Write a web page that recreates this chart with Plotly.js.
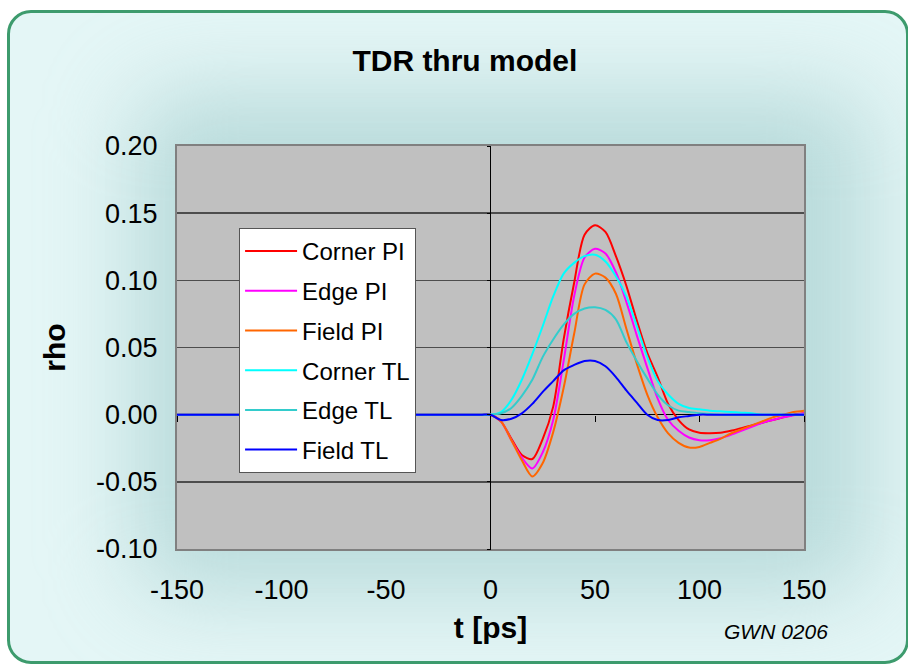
<!DOCTYPE html>
<html>
<head>
<meta charset="utf-8">
<script src="https://cdn.plot.ly/plotly-3.0.1.min.js"></script>
<style>
  html, body { margin: 0; padding: 0; width: 908px; height: 664px; overflow: hidden; background: #ffffff; }
  #frame { position: absolute; left: 7px; top: 10px; width: 902px; height: 654px; box-sizing: border-box;
           border: 3px solid #3d9b6d; border-radius: 24px; background: #e4f6f6; overflow: hidden; }
  #glow { position: absolute; left: 125px; top: 80px; width: 735px; height: 500px;
          background: rgba(150, 196, 196, 0.55); filter: blur(45px); border-radius: 40px; }
  #chart { position: absolute; left: 0; top: 0; width: 908px; height: 664px; }
</style>
</head>
<body>
<div id="frame"><div id="glow"></div></div>
<div id="chart"></div>
<script>
const t = [-150, -5, 0, 5, 10, 15, 20, 25, 30, 35, 40, 45, 50, 55, 60, 65, 70, 75, 80, 85, 90, 95, 100, 105, 110, 115, 120, 125, 130, 135, 140, 145, 150];

const cornerPI = [0, 0, 0, -0.005, -0.018, -0.030, -0.033, -0.018, 0.006, 0.056, 0.098, 0.134, 0.141, 0.136, 0.118, 0.096, 0.070, 0.046, 0.028, 0.008, -0.004, -0.011, -0.0135, -0.0138, -0.0135, -0.012, -0.010, -0.008, -0.006, -0.004, -0.002, 0.000, 0.001];
const edgePI   = [0, 0, 0, -0.005, -0.019, -0.032, -0.040, -0.028, -0.004, 0.040, 0.088, 0.117, 0.1235, 0.120, 0.106, 0.084, 0.059, 0.035, 0.012, -0.004, -0.012, -0.017, -0.019, -0.019, -0.0175, -0.015, -0.012, -0.009, -0.006, -0.004, -0.002, -0.0005, 0.001];
const fieldPI  = [0, 0, 0, -0.005, -0.019, -0.034, -0.046, -0.036, -0.013, 0.020, 0.060, 0.097, 0.105, 0.102, 0.090, 0.064, 0.038, 0.015, -0.002, -0.014, -0.021, -0.0245, -0.024, -0.021, -0.018, -0.014, -0.011, -0.008, -0.005, -0.002, 0.000, 0.002, 0.003];
const cornerTL = [0, 0, 0, 0.002, 0.011, 0.026, 0.045, 0.066, 0.088, 0.105, 0.113, 0.118, 0.119, 0.114, 0.103, 0.088, 0.066, 0.043, 0.025, 0.015, 0.008, 0.005, 0.004, 0.003, 0.0025, 0.002, 0.0015, 0.001, 0, 0, 0, 0, 0];
const edgeTL   = [0, 0, 0, 0.001, 0.005, 0.014, 0.026, 0.043, 0.056, 0.067, 0.075, 0.079, 0.080, 0.078, 0.071, 0.054, 0.040, 0.027, 0.015, 0.007, 0.003, 0.002, 0.001, 0.0005, 0, 0, 0, 0, 0, 0, 0, 0, 0];
const fieldTL  = [0, 0, 0, -0.004, -0.003, 0.001, 0.008, 0.017, 0.025, 0.033, 0.037, 0.040, 0.040, 0.036, 0.028, 0.018, 0.009, 0.000, -0.004, -0.004, -0.002, -0.001, 0, 0, 0, 0, 0, 0, 0, 0, 0, 0, 0];

const seriesNames = ['Corner PI', 'Edge PI', 'Field PI', 'Corner TL', 'Edge TL', 'Field TL'];
const seriesData = [cornerPI, edgePI, fieldPI, cornerTL, edgeTL, fieldTL];
const seriesColors = ['#ff0000', '#ff00ff', '#ff6600', '#00ffff', '#33cccc', '#0000ff'];

const xTicks = [-150, -100, -50, 0, 50, 100, 150];
const yTicks = [-0.10, -0.05, 0.00, 0.05, 0.10, 0.15, 0.20];

const traces = seriesData.map((d, i) => ({
  x: t, y: d, type: 'scatter', mode: 'lines', name: seriesNames[i],
  legendgroup: 'g' + i,
  line: { color: seriesColors[i], width: 2, shape: 'spline', smoothing: 0.8 }
}));
// empty helper trace so the zero-crossing tick axes are drawn
traces.push({ x: [], y: [], type: 'scatter', mode: 'lines', xaxis: 'x2', yaxis: 'y2',
              showlegend: false, hoverinfo: 'skip' });

const FONT = 'Liberation Sans, Arial, sans-serif';

const layout = {
  width: 908, height: 664,
  paper_bgcolor: 'rgba(0,0,0,0)',
  plot_bgcolor: '#c0c0c0',
  margin: { l: 177, r: 104, t: 146, b: 115, autoexpand: false },
  font: { family: FONT, color: '#000' },
  title: { text: '<b>TDR thru model</b>', font: { size: 30, family: FONT, color: '#000' },
           xref: 'container', x: 0.512, xanchor: 'center', yref: 'container', y: 0.909, yanchor: 'middle' },
  xaxis: {
    range: [-150, 150], tickvals: xTicks, ticktext: xTicks.map(String),
    showgrid: false, zeroline: true, zerolinecolor: '#000', zerolinewidth: 1,
    showline: true, mirror: true, linecolor: '#808080', linewidth: 2,
    ticks: '', ticklabelstandoff: 16,
    tickfont: { size: 27, family: FONT, color: '#000' },
    title: { text: '<b>t [ps]</b>', font: { size: 30, family: FONT, color: '#000' }, standoff: 13 },
    automargin: false, fixedrange: true
  },
  yaxis: {
    range: [-0.1, 0.2], tickvals: yTicks, ticktext: yTicks.map(v => v.toFixed(2)),
    showgrid: true, gridcolor: '#4d4d4d', gridwidth: 1.5,
    zeroline: true, zerolinecolor: '#000', zerolinewidth: 1,
    showline: true, mirror: true, linecolor: '#808080', linewidth: 2,
    ticks: '', ticklabelstandoff: 12,
    tickfont: { size: 27, family: FONT, color: '#000' },
    title: { text: '<b>rho</b>', font: { size: 30, family: FONT, color: '#000' }, standoff: 22 },
    automargin: false, fixedrange: true
  },
  xaxis2: {
    overlaying: 'x', anchor: 'free', position: 1/3, side: 'bottom',
    range: [-150, 150], tickvals: xTicks, showticklabels: false,
    ticks: 'outside', ticklen: 6, tickwidth: 1, tickcolor: '#000',
    showgrid: false, zeroline: false, showline: false, fixedrange: true
  },
  yaxis2: {
    overlaying: 'y', anchor: 'free', position: 0.5, side: 'left',
    range: [-0.1, 0.2], tickvals: yTicks, showticklabels: false,
    ticks: 'outside', ticklen: 4, tickwidth: 1, tickcolor: '#000',
    showgrid: false, zeroline: false, showline: false, fixedrange: true
  },
  showlegend: true,
  legend: {
    x: 0.099, y: 0.7965, xanchor: 'left', yanchor: 'top',
    bgcolor: '#ffffff', bordercolor: '#555555', borderwidth: 1,
    font: { size: 24, family: FONT, color: '#000' },
    tracegroupgap: 5.5, traceorder: 'grouped', itemwidth: 52
  },
  annotations: [{
    text: '<i>GWN 0206</i>', xref: 'paper', yref: 'paper', x: 0.955, y: -0.2047,
    xanchor: 'center', yanchor: 'middle', showarrow: false,
    font: { size: 21, family: FONT, color: '#000' }
  }]
};

Plotly.newPlot('chart', traces, layout, { staticPlot: true, displayModeBar: false });
</script>
</body>
</html>
